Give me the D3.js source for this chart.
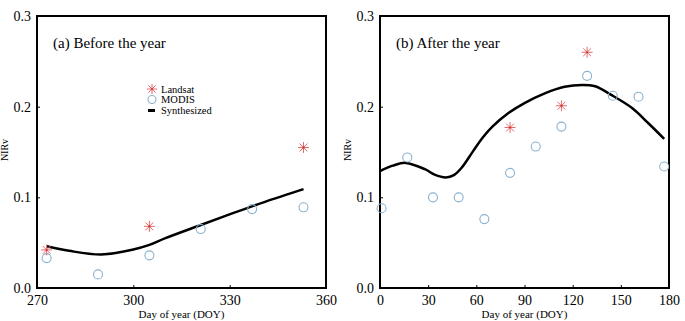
<!DOCTYPE html>
<html><head><meta charset="utf-8">
<script src="https://cdn.jsdelivr.net/npm/d3@7"></script>
<style>
body{margin:0;background:#fff;}
svg, svg text{font-family:"Liberation Serif","Times New Roman",Tinos,"DejaVu Serif",serif !important;}
svg{display:block;}
</style></head>
<body><svg id="c" width="685" height="321"></svg>
<script>
// ---- data ----
const yTicks = [0.0, 0.1, 0.2, 0.3];
const xTicksA = [270, 300, 330, 360];
const xTicksB = [0, 30, 60, 90, 120, 150, 180];

const landsatA_doy = [273, 305, 353];
const landsatA_val = [0.042, 0.068, 0.155];
const modisA_doy = [273, 289, 305, 321, 337, 353];
const modisA_val = [0.033, 0.015, 0.036, 0.065, 0.087, 0.089];
const synthA_doy = [273, 280, 290, 300, 305, 310, 321, 331, 341, 353];
const synthA_val = [0.046, 0.041, 0.037, 0.0425, 0.0475, 0.055, 0.0695, 0.0825, 0.095, 0.109];

const landsatB_doy = [81, 113, 129];
const landsatB_val = [0.177, 0.201, 0.260];
const modisB_doy = [1, 17, 33, 49, 65, 81, 97, 113, 129, 145, 161, 177];
const modisB_val = [0.088, 0.144, 0.100, 0.100, 0.076, 0.127, 0.156, 0.178, 0.234, 0.212, 0.211, 0.134];
const synthB_doy = [0, 8, 16, 28, 34, 41, 46, 51, 58, 64, 70, 80, 90, 103, 115, 126, 134, 144, 157, 167, 177];
const synthB_val = [0.129, 0.135, 0.138, 0.131, 0.125, 0.122, 0.1245, 0.133, 0.151, 0.166, 0.178, 0.193, 0.204, 0.215, 0.222, 0.224, 0.2225, 0.213, 0.1985, 0.182, 0.1645];

const panels = [
  {title: "(a) Before the year", x0: 37, x1: 326, dom: [270, 360], ticks: xTicksA,
   landsat: landsatA_doy.map((d,i)=>[d, landsatA_val[i]]),
   modis: modisA_doy.map((d,i)=>[d, modisA_val[i]]),
   synth: synthA_doy.map((d,i)=>[d, synthA_val[i]]), legend: true},
  {title: "(b) After the year", x0: 380, x1: 669, dom: [0, 180], ticks: xTicksB,
   landsat: landsatB_doy.map((d,i)=>[d, landsatB_val[i]]),
   modis: modisB_doy.map((d,i)=>[d, modisB_val[i]]),
   synth: synthB_doy.map((d,i)=>[d, synthB_val[i]]), legend: false}
];

const svg = d3.select("#c");
const plotTop = 16, plotBottom = 288;
const starColor = "#e36a6a", circColor = "#8ab2cf";

function star(g, x, y, r) {
  const s = g.append("g").attr("transform", `translate(${x},${y})`);
  for (let k = 0; k < 4; k++) {
    const a = k * Math.PI / 4;
    s.append("line").attr("x1", -r*Math.cos(a)).attr("y1", -r*Math.sin(a))
      .attr("x2", r*Math.cos(a)).attr("y2", r*Math.sin(a))
      .attr("stroke", starColor).attr("stroke-width", 1);
  }
  s.append("circle").attr("r", 1).attr("fill", "#d03030");
}

panels.forEach(p => {
  const x = d3.scaleLinear().domain(p.dom).range([p.x0, p.x1]);
  const y = d3.scaleLinear().domain([0, 0.3]).range([plotBottom, plotTop]);
  const g = svg.append("g");

  const ax = g.append("g").attr("transform", `translate(0,${plotBottom})`)
    .call(d3.axisBottom(x).tickValues(p.ticks).tickSize(-3).tickPadding(7).tickFormat(d3.format("d")));
  const ay = g.append("g").attr("transform", `translate(${p.x0},0)`)
    .call(d3.axisLeft(y).tickValues(yTicks).tickSize(-3).tickPadding(6).tickFormat(d3.format(".1f")));
  [ax, ay].forEach(a => {
    a.attr("font-family", null);
    a.select(".domain").remove();
    a.selectAll("line").attr("stroke", "#000").attr("stroke-width", 1);
    a.selectAll("text").attr("font-size", 14).attr("fill", "#000");
  });
  ax.selectAll("text").attr("dy", "0.71em");

  g.append("rect").attr("x", p.x0).attr("y", plotTop).attr("width", p.x1 - p.x0).attr("height", plotBottom - plotTop)
    .attr("fill", "none").attr("stroke", "#000").attr("stroke-width", 2);

  g.append("text").attr("x", (p.x0 + p.x1) / 2).attr("y", 318).attr("text-anchor", "middle")
    .attr("font-size", 11).text("Day of year (DOY)");
  g.append("text").attr("transform", `translate(${p.x0 - 29},150) rotate(-90)`).attr("text-anchor", "middle")
    .attr("font-size", 10).text("NIRv");
  g.append("text").attr("x", p.x0 + 16).attr("y", 48).attr("font-size", 15).text(p.title);

  g.append("path").datum(p.synth)
    .attr("d", d3.line().x(d => x(d[0])).y(d => y(d[1])).curve(d3.curveCatmullRom.alpha(0.5)))
    .attr("fill", "none").attr("stroke", "#000").attr("stroke-width", 2.5);

  g.selectAll("circle.m").data(p.modis).enter().append("circle").attr("class", "m")
    .attr("cx", d => x(d[0])).attr("cy", d => y(d[1])).attr("r", 4.5)
    .attr("fill", "none").attr("stroke", circColor).attr("stroke-width", 1.1);

  p.landsat.forEach(d => star(g, x(d[0]), y(d[1]), 5.5));

  if (p.legend) {
    const lx = 152, tx = 161;
    star(g, lx, 89, 5);
    g.append("text").attr("x", tx).attr("y", 92.5).attr("font-size", 10.5).text("Landsat");
    g.append("circle").attr("cx", lx).attr("cy", 99.5).attr("r", 4).attr("fill", "none")
      .attr("stroke", circColor).attr("stroke-width", 1.1);
    g.append("text").attr("x", tx).attr("y", 103).attr("font-size", 10.5).text("MODIS");
    g.append("line").attr("x1", lx - 4).attr("x2", lx + 3).attr("y1", 110.5).attr("y2", 110.5)
      .attr("stroke", "#000").attr("stroke-width", 3);
    g.append("text").attr("x", tx).attr("y", 114).attr("font-size", 10.5).text("Synthesized");
  }
});
</script></body></html>
